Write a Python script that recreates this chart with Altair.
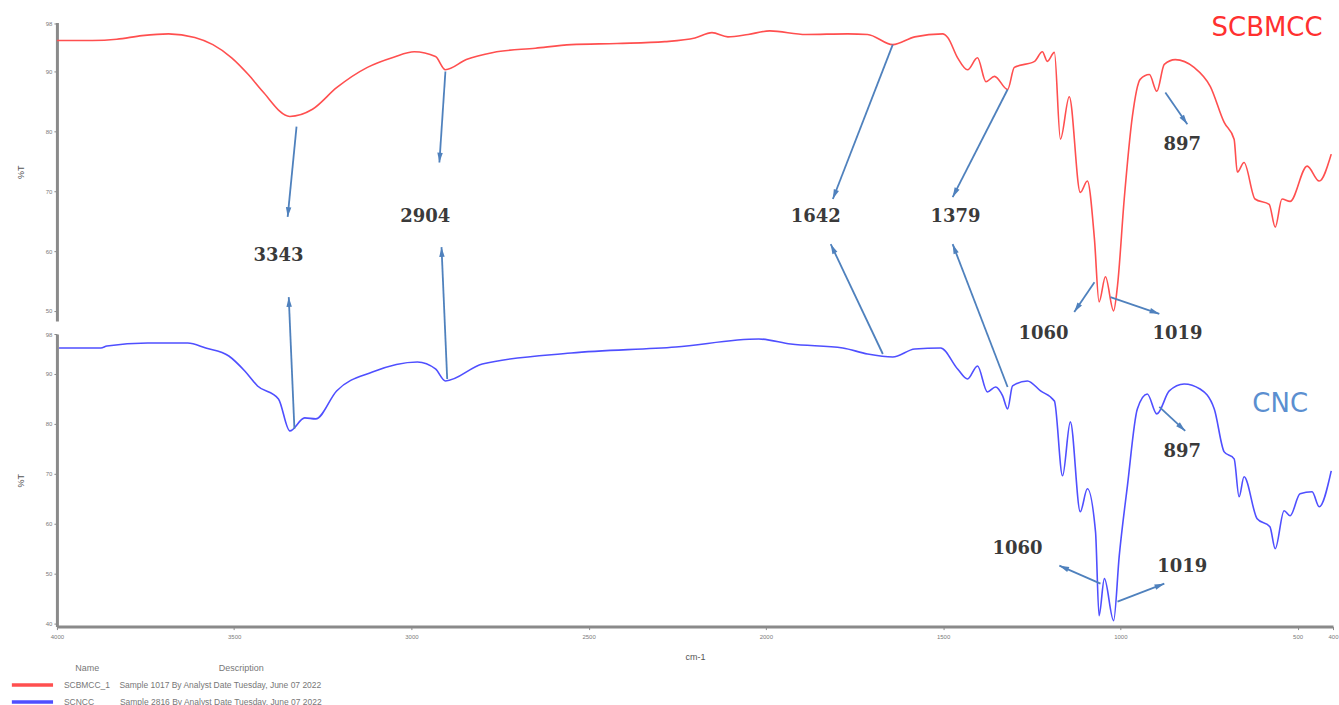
import math
import altair as alt
import pandas as pd

# ---- FTIR spectra (wavenumber in cm-1, transmittance in %T) ----
scb_wn = [4000, 3900, 3831, 3760, 3685, 3611, 3560, 3507, 3460, 3420, 3343, 3279,
          3211, 3124, 3050, 2992, 2932, 2904, 2845, 2769, 2650, 2549, 2420, 2285,
          2200, 2152, 2107, 2050, 1989, 1887, 1769, 1713, 1642, 1580, 1501, 1487,
          1459, 1431, 1403, 1379, 1355, 1318, 1299, 1242, 1220, 1206, 1186, 1169,
          1144, 1113, 1093, 1073, 1060, 1042, 1019, 1008, 989, 966, 944, 918, 897,
          876, 845, 792, 746, 707, 679, 670, 651, 620, 580, 563, 544, 521, 473,
          439, 405]
scb_t = [95.2, 95.2, 95.4, 96.0, 96.3, 95.7, 94.5, 92.3, 89.5, 86.7, 82.5, 83.7,
         87.3, 90.7, 92.4, 93.3, 92.5, 90.3, 92.0, 93.2, 93.9, 94.5, 94.7, 95.0,
         95.6, 96.5, 95.8, 96.2, 96.8, 96.2, 96.3, 96.2, 94.5, 95.8, 96.3, 95.7,
         92.3, 90.3, 92.3, 88.3, 89.2, 87.0, 90.7, 91.7, 93.3, 91.7, 93.2, 78.7,
         85.8, 69.8, 71.7, 62.0, 51.5, 55.7, 50.0, 54.2, 68.7, 82.5, 88.7, 89.5,
         86.7, 91.2, 92.0, 90.7, 87.5, 81.5, 78.7, 73.2, 74.8, 68.7, 67.8, 64.0,
         68.7, 68.3, 74.2, 71.7, 76.2]

cnc_wn = [3994, 3876, 3859, 3744, 3631, 3580, 3515, 3470, 3434, 3375, 3343, 3301,
          3270, 3211, 3110, 2983, 2932, 2904, 2800, 2549, 2254, 2020, 1930, 1783,
          1713, 1642, 1580, 1507, 1459, 1431, 1403, 1375, 1352, 1332, 1318, 1304,
          1262, 1225, 1186, 1163, 1141, 1113, 1093, 1070, 1060, 1045, 1019, 1003,
          980, 952, 924, 897, 862, 820, 775, 735, 707, 679, 665, 651, 614, 578,
          563, 538, 521, 493, 459, 439, 405]
cnc_t = [95.2, 95.2, 95.6, 96.2, 96.2, 95.2, 93.6, 90.6, 87.6, 85.0, 78.6, 81.2,
         81.0, 86.6, 90.4, 92.4, 91.0, 88.6, 92.0, 94.2, 95.4, 97.0, 96.0, 95.2,
         94.0, 93.4, 95.0, 95.2, 91.0, 89.0, 91.6, 86.4, 87.4, 85.6, 83.0, 87.6,
         88.6, 86.6, 84.6, 69.6, 80.4, 62.4, 67.0, 58.4, 41.6, 49.0, 40.6, 53.6,
         67.6, 83.0, 86.0, 82.0, 86.6, 88.0, 87.0, 83.0, 74.4, 73.0, 65.4, 69.4,
         61.0, 59.4, 55.0, 62.6, 61.6, 66.0, 66.4, 63.4, 70.6]

series_names = ["SCBMCC_1", "SCNCC"]
series_desc = ["Sample 1017 By Analyst Date Tuesday, June 07 2022",
               "Sample 2816 By Analyst Date Tuesday, June 07 2022"]
series_colors = ["#ff4f4f", "#4f4fff"]

# band assignments: label text and position, arrows (start -> head)
top_labels = [("3343", 3375, 59.2), ("2904", 2961, 65.7), ("1642", 1859, 65.7),
              ("1379", 1465, 65.7), ("1060", 1217, 46.2), ("1019", 839, 46.2),
              ("897", 825, 77.8)]
top_arrows = [(3324, 80.8, 3349, 65.7), (2904, 90.0, 2921, 74.8),
              (1642, 94.5, 1811, 68.7), (1318, 87.0, 1473, 69.0),
              (1073, 54.8, 1130, 49.8), (1028, 52.3, 890, 49.5),
              (873, 86.5, 811, 81.2)]
bot_labels = [("897", 825, 74.4), ("1060", 1290, 55.0), ("1019", 825, 51.4)]
bot_arrows = [(3330, 79.0, 3346, 105.4), (2899, 89.0, 2915, 115.4),
              (1670, 94.0, 1817, 116.0), (1318, 87.4, 1473, 116.0),
              (890, 83.4, 817, 78.6), (1056, 48.0, 1172, 51.6),
              (1008, 44.4, 876, 48.0)]

X_DOMAIN = [4000, 400]
TOP_DOMAIN = [48.3, 98.2]
BOT_DOMAIN = [39.4, 98.0]
W, H_TOP, H_BOT = 1278, 299, 293

ARROW_COLOR = "#4f81bd"
LABEL_COLOR = "#3a3a3a"
AXIS_GRAY = "#8a8a8a"
TICK_TEXT = "#7a7a7a"
HEAD = "M0,0L0.42,1.5L-0.42,1.5Z"
SWATCH = "M-2.75,0H2.75"
NB = "\u00a0"
ZW = "\u200b"


def head_angle(a, domain, height):
    """Screen angle (deg, clockwise from up) of an arrow from its start to its head."""
    x1, y1, x2, y2 = a
    sx = W / (X_DOMAIN[0] - X_DOMAIN[1])
    sy = height / (domain[1] - domain[0])
    dx = -(x2 - x1) * sx
    dy = -(y2 - y1) * sy
    return (math.degrees(math.atan2(dx, -dy)) + 360) % 360


x_scale = alt.Scale(domain=X_DOMAIN, nice=False, zero=False)


def x_enc(show_axis):
    axis = None
    if show_axis:
        axis = alt.Axis(values=[4000, 3500, 3000, 2500, 2000, 1500, 1000, 500, 400],
                        format="d", title="cm-1", labelFontSize=6, labelColor=TICK_TEXT,
                        titleFontSize=9, titleFontWeight="normal", titleColor="#555",
                        titlePadding=13, tickSize=3, tickColor=AXIS_GRAY,
                        domainColor=AXIS_GRAY, domainWidth=3, labelFlush=False,
                        labelPadding=4, grid=False)
    return alt.X("wn:Q", scale=x_scale, axis=axis)


# two-column legend: "Name" / "Description"
legend_title = ZW + NB * 21 + "Name" + NB * 48 + "Description"
name_gap = {"SCBMCC_1": 4, "SCNCC": 11}
legend_expr = " : ".join(
    [f"datum.label == '{n}' ? '{n}" + NB * name_gap[n] + f"{d}'"
     for n, d in zip(series_names, series_desc)]) + " : datum.label"


def panel(wn, t, idx, domain, height, labels, arrows, ticks, show_x, tag):
    line_df = pd.DataFrame({"wn": wn, "t": t, "series": series_names[idx]})
    y_scale = alt.Scale(domain=domain, nice=False, zero=False)
    y_axis = alt.Axis(values=ticks, format="d", title="%T", labelFontSize=6,
                      labelColor=TICK_TEXT, titleFontSize=9, titleFontWeight="normal",
                      titleColor="#555", titlePadding=20, tickSize=3,
                      tickColor=AXIS_GRAY, domainColor=AXIS_GRAY, domainWidth=3,
                      grid=False)
    spectrum = alt.Chart(line_df).mark_line(strokeWidth=1.6, interpolate="monotone").encode(
        x=x_enc(show_x),
        y=alt.Y("t:Q", scale=y_scale, axis=y_axis),
        color=alt.Color("series:N",
                        scale=alt.Scale(domain=series_names, range=series_colors),
                        legend=alt.Legend(
                            orient="none", legendX=-34, legendY=642,
                            title=legend_title, titleFontSize=9, titleFontWeight="normal",
                            titleColor="#777", titlePadding=3, titleLimit=600,
                            labelFontSize=8.5, labelColor="#777", labelLimit=600,
                            labelExpr=legend_expr,
                            symbolType=SWATCH, symbolSize=225, symbolStrokeWidth=3.5,
                            rowPadding=0, labelOffset=22, padding=0)),
    )
    arr_df = pd.DataFrame(arrows, columns=["x1", "y1", "x2", "y2"])
    arr_df["angle"] = [head_angle(a, domain, height) for a in arrows]
    shafts = alt.Chart(arr_df).mark_rule(color=ARROW_COLOR, strokeWidth=1.8).encode(
        x=alt.X("x1:Q", scale=x_scale),
        x2="x2:Q",
        y=alt.Y("y1:Q", scale=y_scale),
        y2="y2:Q",
    )
    heads = alt.Chart(arr_df).mark_point(shape=HEAD, filled=True, opacity=1,
                                         color=ARROW_COLOR, size=170).encode(
        x=alt.X("x2:Q", scale=x_scale),
        y=alt.Y("y2:Q", scale=y_scale),
        angle=alt.Angle("angle:Q", scale=None),
    )
    lab_df = pd.DataFrame(labels, columns=["text", "wn", "t"])
    texts = alt.Chart(lab_df).mark_text(font="DejaVu Serif", fontWeight="bold", fontSize=18,
                                        color=LABEL_COLOR).encode(
        x=alt.X("wn:Q", scale=x_scale),
        y=alt.Y("t:Q", scale=y_scale),
        text="text:N",
    )
    name_df = pd.DataFrame([tag])
    name = alt.Chart(name_df).mark_text(font="DejaVu Sans", fontSize=26).encode(
        x=alt.X("wn:Q", scale=x_scale),
        y=alt.Y("t:Q", scale=y_scale),
        text="text:N",
        color=alt.value(tag["color"]),
    )
    return alt.layer(spectrum, shafts, heads, texts, name).properties(width=W, height=height)


top_ticks = [50, 55, 60, 65, 70, 75, 80, 85, 90, 95, 98]
bot_ticks = [40, 45, 50, 55, 60, 65, 70, 75, 80, 85, 90, 95, 98]

top = panel(scb_wn, scb_t, 0, TOP_DOMAIN, H_TOP, top_labels, top_arrows, top_ticks, False,
            {"text": "SCBMCC", "wn": 586, "t": 97.3, "color": "#ff3030"})
bottom = panel(cnc_wn, cnc_t, 1, BOT_DOMAIN, H_BOT, bot_labels, bot_arrows, bot_ticks, True,
               {"text": "CNC", "wn": 549, "t": 84.0, "color": "#5b8fd0"})

chart = alt.vconcat(top, bottom, spacing=13, bounds="flush").configure(
    background="white", padding={"left": 16, "top": 14, "right": 0, "bottom": 0},
    font="Liberation Sans"
).configure_view(stroke=None).configure_axis(grid=False)

chart.save("out.html", embed_options={"renderer": "svg", "actions": False})
